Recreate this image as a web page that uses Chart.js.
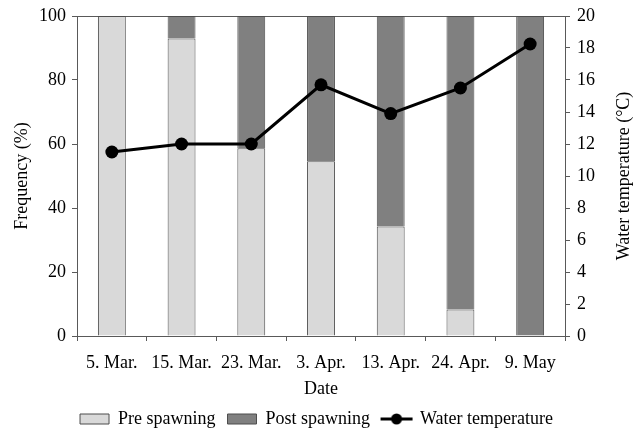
<!DOCTYPE html>
<html>
<head>
<meta charset="utf-8">
<script src="https://cdn.jsdelivr.net/npm/chart.js@4"></script>
<style>
  html, body { margin: 0; padding: 0; background: #fff; }
  #wrap { width: 633px; height: 433px; }
</style>
</head>
<body>
<div id="wrap"><canvas id="chart" width="633" height="433"></canvas></div>
<script>
// data
const dates = ['5. Mar.', '15. Mar.', '23. Mar.', '3. Apr.', '13. Apr.', '24. Apr.', '9. May'];
const preSpawning = [100, 93, 58.7, 54.6, 34.2, 8.3, 0];
const postSpawning = [0, 7, 41.3, 45.4, 65.8, 91.7, 100];
const waterTemp = [11.5, 12.0, 12.0, 15.7, 13.9, 15.5, 18.25];
const freqTicks = [0, 20, 40, 60, 80, 100];
const tempTicks = [0, 2, 4, 6, 8, 10, 12, 14, 16, 18, 20];

const FONT = 'Liberation Serif, Times New Roman, serif';
const AXIS = '#595959';
const rightTitle = 'Water temperature (°C)';

// legend symbol for the temperature line: line with a dot
function lineDotIcon() {
    const c = document.createElement('canvas');
    c.width = 34; c.height = 14;
    const g = c.getContext('2d');
    g.strokeStyle = '#000';
    g.lineWidth = 3;
    g.beginPath(); g.moveTo(1, 7); g.lineTo(33, 7); g.stroke();
    g.fillStyle = '#000';
    g.beginPath(); g.arc(17, 7, 5.5, 0, Math.PI * 2); g.fill();
    return c;
}
const lineIcon = lineDotIcon();

// right axis title reads bottom-to-top, chart.js rotates it the other way
const rightTitlePlugin = {
    id: 'rightTitle',
    afterDraw(chart) {
        const s = chart.scales.y1;
        const g = chart.ctx;
        g.save();
        g.translate(s.right - 9, (chart.chartArea.top + chart.chartArea.bottom) / 2);
        g.rotate(-Math.PI / 2);
        g.font = '18px ' + FONT;
        g.fillStyle = '#000';
        g.textAlign = 'center';
        g.textBaseline = 'middle';
        g.fillText(rightTitle, 0, 0);
        g.restore();
    }
};

const ctx = document.getElementById('chart');
new Chart(ctx, {
    data: {
        labels: dates,
        datasets: [
            {
                type: 'bar', label: 'Pre spawning', data: preSpawning,
                backgroundColor: '#d9d9d9', borderColor: '#4d4d4d', borderWidth: 1,
                stack: 's', yAxisID: 'y', order: 1,
                barPercentage: 0.4, categoryPercentage: 1
            },
            {
                type: 'bar', label: 'Post spawning', data: postSpawning,
                backgroundColor: '#808080', borderColor: '#4d4d4d', borderWidth: 1,
                stack: 's', yAxisID: 'y', order: 1,
                barPercentage: 0.4, categoryPercentage: 1
            },
            {
                type: 'line', label: 'Water temperature', data: waterTemp,
                borderColor: '#000', backgroundColor: '#000', borderWidth: 3,
                pointRadius: 6.5, pointBackgroundColor: '#000', pointBorderWidth: 0,
                yAxisID: 'y1', order: 0, tension: 0
            }
        ]
    },
    plugins: [rightTitlePlugin],
    options: {
        responsive: false,
        animation: false,
        layout: { padding: { top: 5, left: 0, right: 0, bottom: -5 } },
        plugins: {
            tooltip: { enabled: false },
            legend: {
                position: 'bottom',
                labels: {
                    font: { family: FONT, size: 18 },
                    color: '#000',
                    usePointStyle: true,
                    pointStyleWidth: 29,
                    boxHeight: 10,
                    padding: 12,
                    sort: (a, b) => a.datasetIndex - b.datasetIndex,
                    generateLabels: chart => {
                        const items = Chart.defaults.plugins.legend.labels.generateLabels(chart);
                        items.forEach(it => {
                            if (it.datasetIndex === 2) {
                                it.pointStyle = lineIcon;
                            } else {
                                it.pointStyle = 'rect';
                                it.strokeStyle = '#4d4d4d';
                                it.lineWidth = 1;
                            }
                        });
                        return items;
                    }
                }
            }
        },
        scales: {
            x: {
                stacked: true,
                grid: { drawOnChartArea: false, drawTicks: true, tickLength: 5, color: AXIS, offset: true },
                border: { color: AXIS, width: 1 },
                ticks: { font: { family: FONT, size: 18 }, color: '#000', padding: 11, maxRotation: 0, autoSkip: false },
                title: { display: true, text: 'Date', font: { family: FONT, size: 18 }, color: '#000', padding: { top: 0, bottom: -2 } },
                afterFit: s => { s.height = 62; }
            },
            xTop: {
                position: 'top',
                type: 'category',
                labels: dates,
                grid: { display: false },
                ticks: { display: false },
                border: { display: true, color: AXIS, width: 1 },
                afterFit: s => { s.height = 0; }
            },
            y: {
                stacked: true,
                position: 'left',
                min: 0, max: 100,
                afterBuildTicks: s => { s.ticks = freqTicks.map(v => ({ value: v })); },
                grid: { drawOnChartArea: false, drawTicks: true, tickLength: 5, color: AXIS },
                border: { color: AXIS, width: 1 },
                ticks: { font: { family: FONT, size: 18, lineHeight: 1 }, color: '#000', padding: 6 },
                title: { display: true, text: 'Frequency (%)', font: { family: FONT, size: 18 }, color: '#000', padding: { top: 11, bottom: 0 } },
                afterFit: s => { s.width = 77; }
            },
            y1: {
                position: 'right',
                min: 0, max: 20,
                afterBuildTicks: s => { s.ticks = tempTicks.map(v => ({ value: v })); },
                grid: { drawOnChartArea: false, drawTicks: true, tickLength: 5, color: AXIS },
                border: { color: AXIS, width: 1 },
                ticks: { font: { family: FONT, size: 18, lineHeight: 1 }, color: '#000', padding: 7 },
                title: { display: false },
                afterFit: s => { s.width = 68; }
            }
        }
    }
});
</script>
</body>
</html>
